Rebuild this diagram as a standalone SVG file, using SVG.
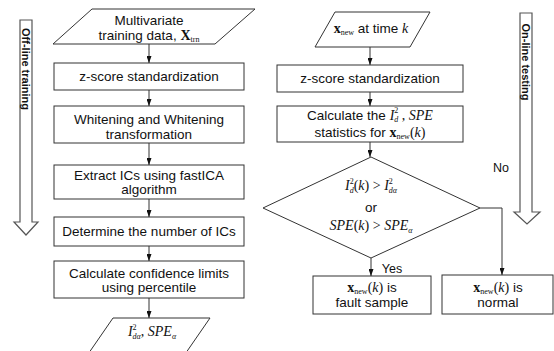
<svg xmlns="http://www.w3.org/2000/svg" width="554" height="351" viewBox="0 0 554 351">
<defs>
<marker id="ah" viewBox="0 0 7 5" refX="7" refY="2.5" markerWidth="7" markerHeight="5" markerUnits="userSpaceOnUse" orient="auto">
<path d="M0,0 L7,2.5 L0,5 z" fill="#111"/>
</marker>
</defs>
<style>
.box{fill:#fff;stroke:#333;stroke-width:1}
.big{fill:#fff;stroke:#555;stroke-width:1.2}
.t{font-family:"Liberation Sans",Arial,sans-serif;font-size:13.5px;fill:#111;text-anchor:middle}
.lab{font-family:"Liberation Sans",Arial,sans-serif;font-size:11px;font-weight:bold;fill:#111;text-anchor:middle}
.m{font-family:"Liberation Serif","Times New Roman",serif;font-style:italic;font-size:14px}
.r{font-family:"Liberation Serif","Times New Roman",serif;font-style:normal;font-size:14px}
.bx{font-family:"Liberation Serif","Times New Roman",serif;font-weight:bold;font-style:normal;font-size:14px}
.s{font-size:8px}
.conn line,.conn polyline{stroke:#333;stroke-width:1;fill:none}
</style>

<g id="offline-arrow">
<polygon class="big" points="20,20 32,20 32,222 38,222 26,235 14,222 20,222"/>
<text class="lab" transform="translate(22,69) rotate(90)">Off-line training</text>
</g>
<g id="online-arrow">
<polygon class="big" points="520,13 532,13 532,212 540,212 527,224 514,212 520,212"/>
<text class="lab" transform="translate(522,62) rotate(90)">On-line testing</text>
</g>

<g id="n-train-data">
<polygon class="box" points="92,9 255,9 215,44 53,44"/>
<text class="t" x="149" y="25">Multivariate</text>
<text class="t" x="149" y="40">training data, <tspan class="bx">X</tspan><tspan class="r s" dy="2">trn</tspan></text>
</g>
<g id="n-zscore-l">
<rect class="box" x="54" y="63" width="190" height="27"/>
<text class="t" x="149" y="81">z-score standardization</text>
</g>
<g id="n-whiten">
<rect class="box" x="54" y="106" width="190" height="37"/>
<text class="t" x="149" y="124">Whitening and Whitening</text>
<text class="t" x="149" y="139">transformation</text>
</g>
<g id="n-extract">
<rect class="box" x="54" y="165" width="190" height="34"/>
<text class="t" x="149" y="179.5">Extract ICs using fastICA</text>
<text class="t" x="149" y="193.5">algorithm</text>
</g>
<g id="n-determine">
<rect class="box" x="54" y="217" width="190" height="29"/>
<text class="t" x="149" y="236">Determine the number of ICs</text>
</g>
<g id="n-limits">
<rect class="box" x="54" y="261" width="190" height="37"/>
<text class="t" x="149" y="277.5">Calculate confidence limits</text>
<text class="t" x="149" y="292">using percentile</text>
</g>
<g id="n-limits-out">
<polygon class="box" points="113,318 210,318 181,360 84,360"/>
<text class="t" x="152" y="336"><tspan class="m">I</tspan><tspan class="r s" dy="-6.5">2</tspan><tspan class="m s" dx="-4" dy="9">dα</tspan><tspan class="r" dy="-2.5">, </tspan><tspan class="m">SPE</tspan><tspan class="m s" dy="3">α</tspan></text>
</g>

<g id="n-xnew">
<polygon class="box" points="335,12 430,12 410,47 315,47"/>
<text class="t" x="371" y="33"><tspan class="bx">x</tspan><tspan class="r s" dy="2">new</tspan><tspan dy="-2"> at time </tspan><tspan class="m">k</tspan></text>
</g>
<g id="n-zscore-r">
<rect class="box" x="277" y="65" width="186" height="27"/>
<text class="t" x="370" y="83">z-score standardization</text>
</g>
<g id="n-calc">
<rect class="box" x="277" y="106" width="186" height="36"/>
<text class="t" x="370" y="119.5">Calculate the  <tspan class="m">I</tspan><tspan class="r s" dy="-6.5">2</tspan><tspan class="m s" dx="-4" dy="9">d</tspan><tspan class="r" dy="-2.5"> , </tspan><tspan class="m">SPE</tspan></text>
<text class="t" x="370" y="137">statistics for <tspan class="bx">x</tspan><tspan class="r s" dy="2">new</tspan><tspan class="r" dy="-2">(</tspan><tspan class="m">k</tspan><tspan class="r">)</tspan></text>
</g>
<g id="n-decision">
<polygon class="box" points="371,157 480,208 371,258 263,208"/>
<text class="t" x="371" y="190"><tspan class="m">I</tspan><tspan class="r s" dy="-6.5">2</tspan><tspan class="m s" dx="-4" dy="9">d</tspan><tspan class="r" dy="-2.5">(</tspan><tspan class="m">k</tspan><tspan class="r">) &gt; </tspan><tspan class="m">I</tspan><tspan class="r s" dy="-6.5">2</tspan><tspan class="m s" dx="-4" dy="9">dα</tspan></text>
<text class="t" x="371" y="212">or</text>
<text class="t" x="371" y="230"><tspan class="m">SPE</tspan><tspan class="r">(</tspan><tspan class="m">k</tspan><tspan class="r">) &gt; </tspan><tspan class="m">SPE</tspan><tspan class="m s" dy="3">α</tspan></text>
</g>
<g id="n-fault">
<rect class="box" x="313" y="276" width="118" height="38"/>
<text class="t" x="372" y="292"><tspan class="bx">x</tspan><tspan class="r s" dy="2">new</tspan><tspan class="r" dy="-2">(</tspan><tspan class="m">k</tspan><tspan class="r">)</tspan> is</text>
<text class="t" x="372" y="307">fault sample</text>
</g>
<g id="n-normal">
<rect class="box" x="442" y="275" width="111" height="39"/>
<text class="t" x="498" y="292"><tspan class="bx">x</tspan><tspan class="r s" dy="2">new</tspan><tspan class="r" dy="-2">(</tspan><tspan class="m">k</tspan><tspan class="r">)</tspan> is</text>
<text class="t" x="498" y="307">normal</text>
</g>

<g class="conn" id="connectors">
<line x1="149" y1="44" x2="149" y2="63" marker-end="url(#ah)"/>
<line x1="149" y1="90" x2="149" y2="106" marker-end="url(#ah)"/>
<line x1="149" y1="143" x2="149" y2="165" marker-end="url(#ah)"/>
<line x1="149" y1="199" x2="149" y2="217" marker-end="url(#ah)"/>
<line x1="149" y1="246" x2="149" y2="261" marker-end="url(#ah)"/>
<line x1="149" y1="298" x2="149" y2="318" marker-end="url(#ah)"/>
<line x1="370" y1="47" x2="370" y2="65" marker-end="url(#ah)"/>
<line x1="370" y1="92" x2="370" y2="106" marker-end="url(#ah)"/>
<line x1="370" y1="142" x2="370" y2="157" marker-end="url(#ah)"/>
<line x1="371" y1="258" x2="371" y2="276" marker-end="url(#ah)"/>
<polyline points="480,208 502,208 502,275" marker-end="url(#ah)"/>
<text class="t" x="392" y="273" style="font-size:12.5px">Yes</text>
<text class="t" x="501" y="172" style="font-size:12.5px">No</text>
</g>
</svg>
